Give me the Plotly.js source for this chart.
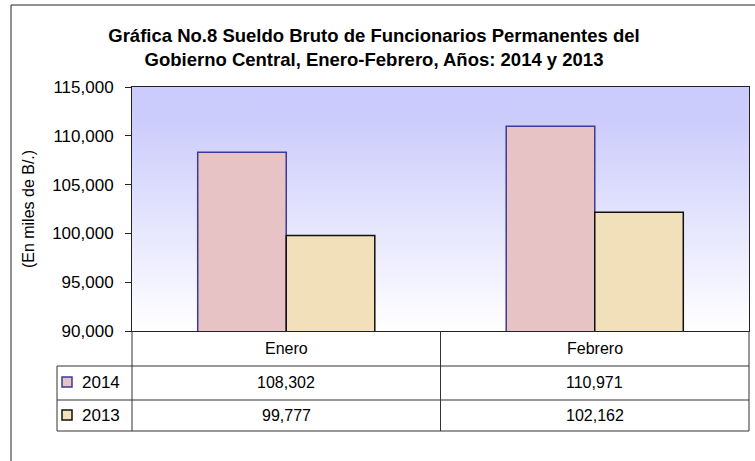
<!DOCTYPE html>
<html><head><meta charset="utf-8">
<script src="https://cdn.plot.ly/plotly-3.0.1.min.js"></script>
<style>html,body{margin:0;padding:0;background:#fff;overflow:hidden}#chart{width:755px;height:461px}</style>
</head><body><div id="chart"></div>
<script>
// ---- data ----
const categories = ['Enero', 'Febrero'];
const seriesNames = ['2014', '2013'];
const values2014 = [108302, 110971];
const values2013 = [99777, 102162];
const yTickVals = [90000, 95000, 100000, 105000, 110000, 115000];
const titleText = 'Gráfica No.8 Sueldo Bruto de Funcionarios Permanentes del<br>Gobierno Central, Enero-Febrero, Años: 2014 y 2013';
const yTitleText = '(En miles de B/.)';

// ---- styles ----
const FONT = '"Liberation Sans", Arial, sans-serif';
const fills = ['#E8C3C6', '#F1E0B9'];
const borders = ['#3B3B9C', '#111111'];
const seriesValues = [values2014, values2013];

// plot area in pixels
const L = 132, R = 749, T = 87, B = 331, W = 755, H = 461;
const px = x => (x - L) / (R - L);
const py = y => (B - y) / (B - T);

const traces = seriesNames.map((name, i) => ({
  type: 'bar', name: name, x: categories, y: seriesValues[i],
  marker: { color: fills[i], line: { color: borders[i], width: 1.5 } },
  hoverinfo: 'x+y+name'
}));

const grad = "<svg xmlns='http://www.w3.org/2000/svg' width='100' height='100' preserveAspectRatio='none'><defs><linearGradient id='g' x1='0' y1='0' x2='0' y2='1'><stop offset='0' stop-color='#CACAFC'/><stop offset='0.15' stop-color='#CDCDFC'/><stop offset='1' stop-color='#FFFFFF'/></linearGradient></defs><rect width='100' height='100' fill='url(#g)'/></svg>";

const lineStyle = { color: '#333333', width: 1 };
const shapes = [
  // outer chart border: only left and top edges are inside the picture
  { type: 'line', xref: 'paper', yref: 'paper', x0: px(11), x1: px(11), y0: py(5), y1: py(461), line: { color: '#222', width: 1 } },
  { type: 'line', xref: 'paper', yref: 'paper', x0: px(11), x1: px(755), y0: py(5), y1: py(5), line: { color: '#222', width: 1 } },
  // table verticals
  { type: 'line', xref: 'paper', yref: 'paper', x0: px(132), x1: px(132), y0: py(331), y1: py(431), line: lineStyle },
  { type: 'line', xref: 'paper', yref: 'paper', x0: px(440.5), x1: px(440.5), y0: py(331), y1: py(431), line: lineStyle },
  { type: 'line', xref: 'paper', yref: 'paper', x0: px(749), x1: px(749), y0: py(331), y1: py(431), line: lineStyle },
  { type: 'line', xref: 'paper', yref: 'paper', x0: px(57), x1: px(57), y0: py(366), y1: py(431), line: lineStyle },
  // table horizontals
  { type: 'line', xref: 'paper', yref: 'paper', x0: px(57), x1: px(749), y0: py(366), y1: py(366), line: lineStyle },
  { type: 'line', xref: 'paper', yref: 'paper', x0: px(57), x1: px(749), y0: py(400), y1: py(400), line: lineStyle },
  { type: 'line', xref: 'paper', yref: 'paper', x0: px(57), x1: px(749), y0: py(431), y1: py(431), line: lineStyle }
];

const rowY = [382, 415];
const annotations = [];
categories.forEach((c, j) => {
  annotations.push({ xref: 'x', yref: 'paper', x: c, y: py(348), text: c, showarrow: false,
    font: { family: FONT, size: 16, color: '#000' }, xanchor: 'center', yanchor: 'middle' });
});
seriesNames.forEach((s, i) => {
  // legend key
  shapes.push({ type: 'rect', xref: 'paper', yref: 'paper', x0: px(62), x1: px(72), y0: py(rowY[i] + 5), y1: py(rowY[i] - 5),
    fillcolor: fills[i], line: { color: borders[i], width: 1.5 } });
  annotations.push({ xref: 'paper', yref: 'paper', x: px(80), y: py(rowY[i]), text: s, showarrow: false,
    font: { family: FONT, size: 17, color: '#000' }, xanchor: 'left', yanchor: 'middle' });
  categories.forEach((c, j) => {
    annotations.push({ xref: 'x', yref: 'paper', x: c, y: py(rowY[i]), text: seriesValues[i][j].toLocaleString('en-US'),
      showarrow: false, font: { family: FONT, size: 16, color: '#000' }, xanchor: 'center', yanchor: 'middle' });
  });
});

const layout = {
  width: W, height: H,
  margin: { l: L, r: W - R, t: T, b: H - B, pad: 0 },
  paper_bgcolor: '#FFFFFF',
  plot_bgcolor: 'rgba(0,0,0,0)',
  showlegend: false,
  barmode: 'group', bargap: 0.426, bargroupgap: 0,
  title: {
    text: titleText,
    font: { family: FONT, size: 18.5, color: '#000', weight: 'bold' },
    xref: 'container', x: 374 / W, xanchor: 'center',
    yref: 'container', y: 1 - 42 / H, yanchor: 'middle'
  },
  xaxis: {
    type: 'category', range: [-0.5, 1.5], showticklabels: false, ticks: '',
    showline: true, mirror: true, linecolor: '#222', linewidth: 1, showgrid: false, zeroline: false, fixedrange: true
  },
  yaxis: {
    range: [90000, 115000], tickvals: yTickVals, tickformat: ',', ticks: 'outside', ticklen: 6, tickcolor: '#222',
    ticklabelstandoff: 8,
    showline: true, mirror: true, linecolor: '#222', linewidth: 1, showgrid: false, zeroline: false,
    tickfont: { family: FONT, size: 17, color: '#000' },
    title: { text: yTitleText, font: { family: FONT, size: 16, color: '#000' }, standoff: 13 },
    automargin: false, fixedrange: true
  },
  images: [{ source: 'data:image/svg+xml;charset=utf-8,' + encodeURIComponent(grad), xref: 'paper', yref: 'paper',
    x: 0, y: 1, sizex: 1, sizey: 1, sizing: 'stretch', xanchor: 'left', yanchor: 'top', layer: 'below' }],
  shapes: shapes,
  annotations: annotations
};

Plotly.newPlot('chart', traces, layout, { displayModeBar: false, staticPlot: true });
</script>
</body></html>
